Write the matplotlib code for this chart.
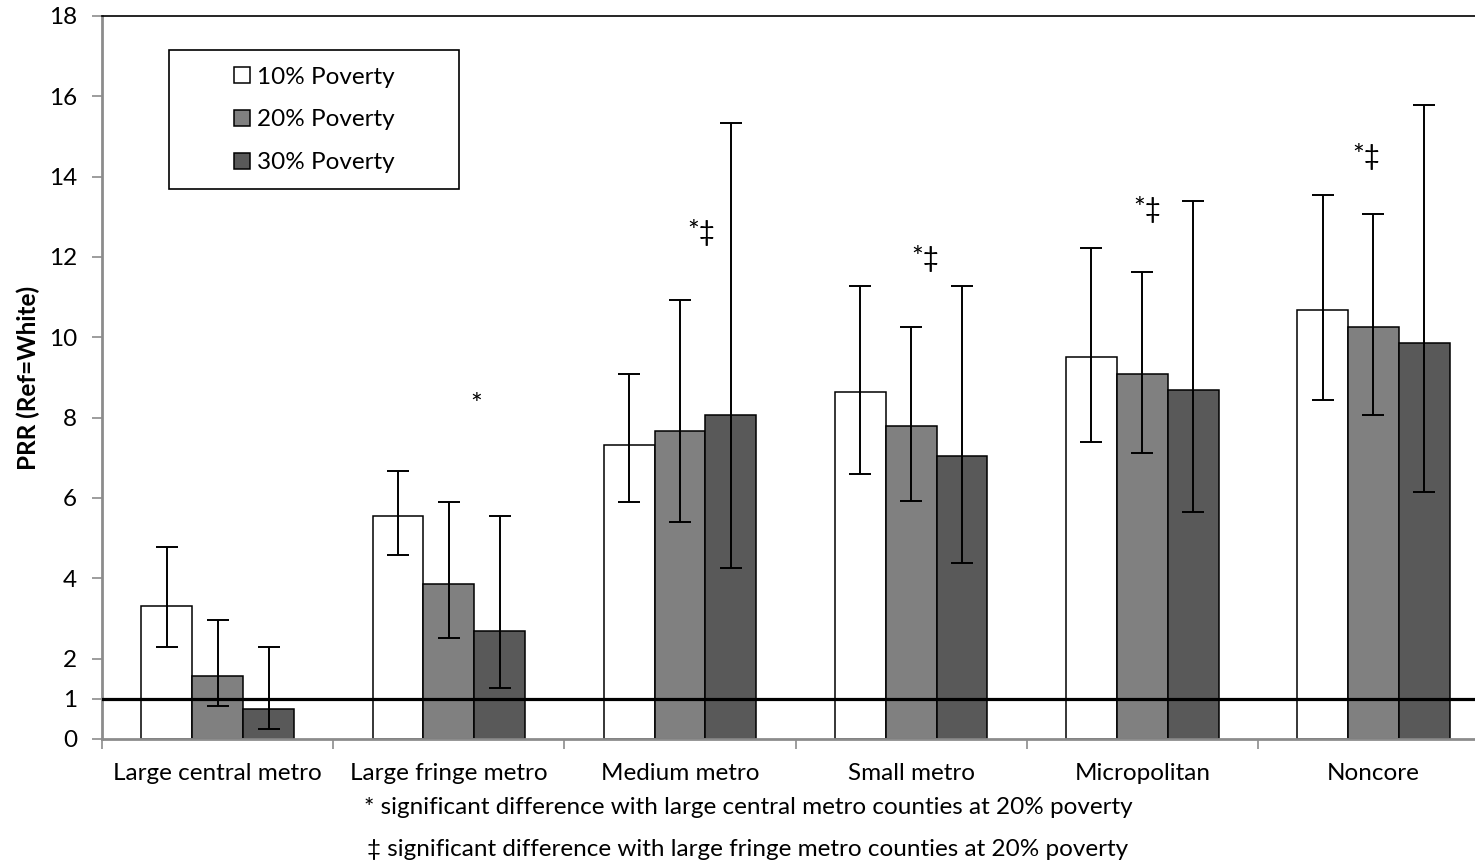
import numpy as np
import matplotlib.pyplot as plt
from matplotlib.patches import Rectangle

plt.rcParams['font.family'] = ['Lato', 'DejaVu Sans']

# data
categories = ["Large central metro", "Large fringe metro", "Medium metro",
              "Small metro", "Micropolitan", "Noncore"]
series_names = ["10% Poverty", "20% Poverty", "30% Poverty"]

pov10 = [3.31, 5.55, 7.32, 8.63, 9.50, 10.68]
pov10_lo = [2.29, 4.59, 5.89, 6.60, 7.39, 8.43]
pov10_hi = [4.78, 6.68, 9.09, 11.28, 12.23, 13.55]

pov20 = [1.57, 3.85, 7.67, 7.79, 9.09, 10.26]
pov20_lo = [0.83, 2.51, 5.41, 5.92, 7.11, 8.06]
pov20_hi = [2.95, 5.91, 10.92, 10.26, 11.62, 13.08]

pov30 = [0.75, 2.69, 8.07, 7.04, 8.68, 9.87]
pov30_lo = [0.25, 1.28, 4.26, 4.39, 5.65, 6.16]
pov30_hi = [2.29, 5.55, 15.33, 11.28, 13.40, 15.78]

sig_marks = ["", "*", "*\u2021", "*\u2021", "*\u2021", "*\u2021"]
sig_y = [0, 8.29, 12.6, 11.97, 13.18, 14.49]

ref_line = 1
yticks = [0, 1, 2, 4, 6, 8, 10, 12, 14, 16, 18]

footnotes = ["* significant difference with large central metro counties at 20% poverty",
             "\u2021 significant difference with large fringe metro counties at 20% poverty"]

# styling
colors = ["#ffffff", "#808080", "#595959"]
bar_w = 0.22
sig_dx = [0, 0.12, 0.09, 0.06, 0.02, -0.03]
axis_grey = "#8c8c8c"
fs = 17.5

fig = plt.figure(figsize=(14.75, 8.64), dpi=100)
ax = fig.add_axes([0.0692, 0.1447, 0.9403, 0.8368])

x = np.arange(len(categories))
vals = [pov10, pov20, pov30]
los = [pov10_lo, pov20_lo, pov30_lo]
his = [pov10_hi, pov20_hi, pov30_hi]

handles = []
for i in range(3):
    v = np.array(vals[i])
    pos = x + (i - 1) * bar_w
    b = ax.bar(pos, v, bar_w, color=colors[i], edgecolor="black",
               linewidth=1.1, zorder=2, label=series_names[i])
    handles.append(b)
    yerr = [v - np.array(los[i]), np.array(his[i]) - v]
    ax.errorbar(pos, v, yerr=yerr, fmt="none", ecolor="black",
                elinewidth=1.4, capsize=8, capthick=1.4, zorder=3)

ax.axhline(ref_line, color="black", linewidth=2.3, zorder=4)

for i in range(len(categories)):
    if sig_marks[i]:
        ax.text(x[i] + sig_dx[i], sig_y[i], sig_marks[i], ha="center",
                va="center", fontsize=20)

ax.set_xlim(-0.5, len(categories) - 0.5)
ax.set_ylim(0, 18)
ax.set_yticks(yticks)
ax.set_xticks(x)
ax.set_xticklabels(categories, fontsize=fs)
ax.set_xticks(np.arange(len(categories) + 1) - 0.5, minor=True)
ax.tick_params(axis="x", which="major", length=0, pad=17)
ax.tick_params(axis="x", which="minor", length=7, color=axis_grey, width=1.2)
ax.tick_params(axis="y", length=7, color=axis_grey, width=1.2, pad=11,
               labelsize=fs)

ax.spines["left"].set_color(axis_grey)
ax.spines["left"].set_linewidth(2)
ax.spines["bottom"].set_color(axis_grey)
ax.spines["bottom"].set_linewidth(2)
ax.spines["top"].set_color("black")
ax.spines["top"].set_linewidth(1.2)
ax.spines["right"].set_visible(False)

ax.set_ylabel("PRR (Ref=White)", fontsize=fs, fontweight="bold", labelpad=6)

# legend box drawn separately so its padding can match the original
ax.add_patch(Rectangle((169 / 1475, 1 - 189 / 864), 290 / 1475, 139 / 864,
                       transform=fig.transFigure, fill=False, edgecolor="black",
                       linewidth=1.2, zorder=5))
leg = ax.legend(handles=handles, loc="center", frameon=False, fontsize=fs,
                bbox_to_anchor=(314 / 1475, 1 - 120 / 864),
                bbox_transform=fig.transFigure, labelspacing=0.9,
                handlelength=0.66, handleheight=0.66, handletextpad=0.3)

fig.text(748 / 1475, 1 - 807 / 864, footnotes[0], ha="center", va="center",
         fontsize=fs)
fig.text(748 / 1475, 1 - 849 / 864, footnotes[1], ha="center", va="center",
         fontsize=fs)

fig.savefig("out.png", dpi=100)
